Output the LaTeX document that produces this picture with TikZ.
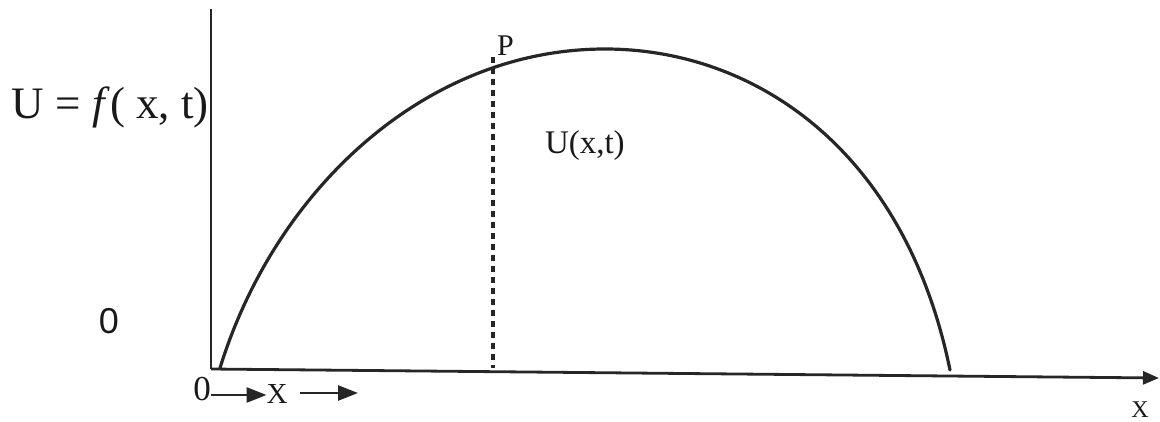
\documentclass[tikz,border=0pt]{standalone}
\usepackage{fontspec}
\setmainfont{Liberation Serif}
\newfontfamily\arialfont{Liberation Sans}
\usetikzlibrary{arrows.meta}
\tikzset{
  axisline/.style={line width=2.8pt, draw=black!85},
  curveline/.style={line width=3.2pt, draw=black!85, line cap=round},
  dashline/.style={line width=3.2pt, draw=black!85, dash pattern=on 6pt off 5pt},
  lbl/.style={inner sep=0pt, outer sep=0pt, text=black!90},
  headarrow/.style={-{Triangle[length=20pt,width=15pt]}, line width=2.6pt, draw=black!85},
}
\begin{document}
\begin{tikzpicture}[x=1pt,y=-1pt]
\useasboundingbox (0,0) rectangle (1160,421);
% axes
\coordinate (O) at (211,369);
\coordinate (ytop) at (211,9);
\coordinate (xend) at (1159,378);
\draw[axisline] (ytop) -- (O);
\draw[axisline, -{Triangle[length=16pt,width=13pt]}] (O) -- (xend);
% curve
\coordinate (cstart) at (220,368);
\coordinate (cpeak) at (605,49);
\coordinate (cend) at (950,370);
\draw[curveline] (cstart) .. controls (275,190) and (425,49) .. (cpeak)
  .. controls (755,49) and (905,150) .. (cend);
% dashed ordinate at P
\coordinate (ptop) at (493,57);
\coordinate (pbot) at (493,368);
\draw[dashline] (ptop) -- (pbot);
% labels
\node[lbl, anchor=base west, font=\fontsize{45}{50}\selectfont] (ulabel) at (12,118) {U = \textit{f}( x, t)};
\node[lbl, anchor=base west, font=\fontsize{30}{34}\selectfont] (plabel) at (497,55) {P};
\node[lbl, anchor=base west, font=\fontsize{33}{38}\selectfont] (uxt) at (545,153) {U(x,t)};
\node[lbl, anchor=base, font=\arialfont\fontsize{36}{40}\selectfont] (zeroleft) at (109,333) {0};
\node[lbl, anchor=base, font=\fontsize{35}{40}\selectfont] (zerob) at (202,400) {0};
\node[lbl, anchor=base, font=\fontsize{29}{34}\selectfont] (xb) at (277,403) {X};
\node[lbl, anchor=base, font=\fontsize{24}{28}\selectfont] (xendlbl) at (1140,417) {X};
% small arrows
\draw[headarrow] (zerob.east |- 0,395) -- (xb.west |- 0,395);
\coordinate (a2s) at (300,393);
\coordinate (a2e) at (358,393);
\draw[headarrow] (a2s) -- (a2e);
\end{tikzpicture}
\end{document}
